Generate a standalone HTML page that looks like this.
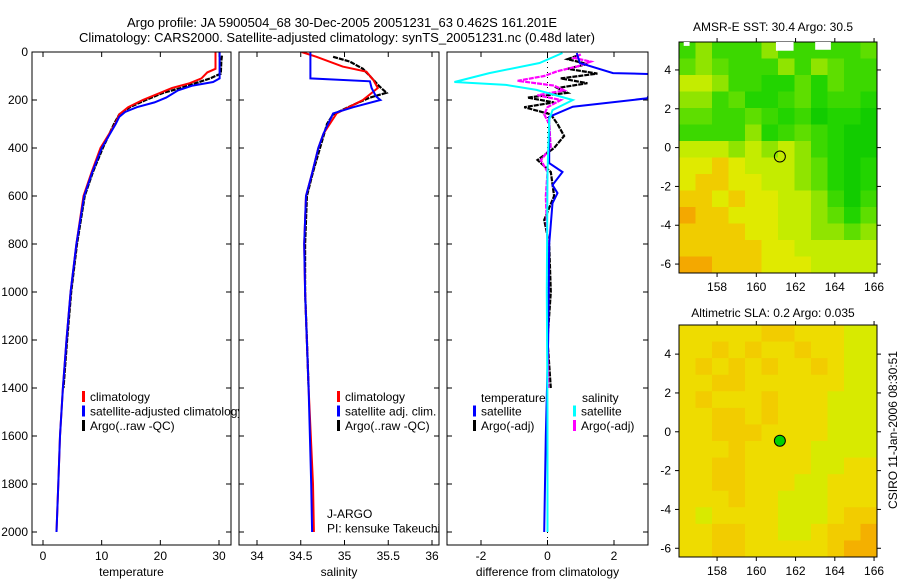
<!DOCTYPE html>
<html><head><meta charset="utf-8">
<style>
html,body{margin:0;padding:0;background:#fff;}
svg{display:block;font-family:"Liberation Sans",sans-serif;}
</style></head>
<body>
<svg id="fig" width="900" height="580" viewBox="0 0 900 580" xmlns="http://www.w3.org/2000/svg">
<text x="342" y="27" font-size="13" text-anchor="middle">Argo profile: JA 5900504_68 30-Dec-2005 20051231_63 0.462S 161.201E</text>
<text x="337" y="42" font-size="13" text-anchor="middle">Climatology: CARS2000. Satellite-adjusted climatology: synTS_20051231.nc (0.48d later)</text>
<text x="773" y="31" font-size="12" text-anchor="middle">AMSR-E SST: 30.4 Argo: 30.5</text>
<text x="773" y="317" font-size="12" text-anchor="middle">Altimetric SLA: 0.2 Argo: 0.035</text>
<text transform="translate(897,430) rotate(-90)" font-size="12" text-anchor="middle">CSIRO 11-Jan-2006 08:30:51</text>
<g id="plots"></g>
</svg>
<script>
// ---- depth profile data ----
const climTempDepth = [0,70,85,110,130,150,170,200,230,260,300,400,500,600,800,1000,1200,1400,1600,1800,2000];
const climTemp      = [29.4,29.4,28,27,25,22,20,17,14.5,13,12.3,9.8,8.3,6.9,5.7,4.7,4.0,3.4,2.9,2.6,2.3];
const satTempDepth  = [0,110,125,140,160,190,210,230,250,270,300,400,500,600,800,1000,1200,1400,1600,1800,2000];
const satTemp       = [30.1,30.1,29,25.5,23,21,19,16,14,13,12.4,10,8.4,7.0,5.7,4.7,4.0,3.4,2.9,2.6,2.3];
const argoTempDepth = [15,40,90,110,130,150,170,200,230,260,300,400,500,600,800,1000,1200,1400];
const argoTemp      = [30.5,30.4,30.3,28.5,26,23.5,20.5,17.5,14.8,13,12.1,10.2,8.5,7.1,5.8,4.8,4.1,3.5];

const climSalDepth = [0,20,61,82,117,150,200,256,340,400,505,600,800,1000,1400,1800,2000];
const climSal      = [34.51,34.68,34.98,35.25,35.33,35.38,35.21,34.91,34.76,34.70,34.63,34.56,34.54,34.55,34.59,34.64,34.65];
const satSalDepth  = [0,110,122,150,185,200,230,256,340,400,505,600,800,1000,1400,1800,2000];
const satSal       = [34.61,34.61,35.29,35.31,35.36,35.41,35.1,34.87,34.76,34.70,34.63,34.56,34.54,34.55,34.59,34.62,34.63];
const argoSalDepth = [20,40,70,100,140,170,190,220,260,300,400,500,600,800,1000,1200,1400];
const argoSal      = [34.87,35.06,35.21,35.29,35.39,35.48,35.29,35.1,34.87,34.8,34.72,34.64,34.57,34.55,34.55,34.57,34.59];

// ---- difference from climatology ----
const dTempSatDepth = [4,46,88,92,137,193,228,270,463,500,554,588,630,800,1200,1600,2000];
const dTempSat      = [0.88,0.97,1.97,3.2,3.2,3.0,0.76,0.05,0.05,0.45,0.15,0.3,0.15,0.05,0.02,-0.05,-0.1];
const dSalSatDepth  = [4,46,88,125,137,158,200,242,283,500,1000,1500,2000];
const dSalSat       = [0.45,-0.24,-1.75,-2.8,-1.25,-0.33,0.76,0.15,0.05,0.0,-0.02,0.0,0.0];
const dTempArgoDepth= [15,30,50,70,90,110,130,150,170,190,210,230,260,300,350,400,450,500,600,700,800,1000,1200,1400];
const dTempArgo     = [0.9,0.6,1.2,0.6,1.5,0.4,1.2,0.3,0.6,-0.6,0.2,-0.7,0.1,0.3,0.5,0.2,-0.3,0.1,0.2,-0.1,0.05,0.1,0.0,0.1];
const dSalArgoDepth = [10,25,40,60,80,100,120,140,160,180,200,230,260,300,400,450,500,600,800,1000,1400];
const dSalArgo      = [1.0,0.8,1.3,0.9,0.3,-0.1,-0.9,0.2,0.5,-0.3,0.4,0.0,-0.1,0.05,0.1,-0.2,0.0,-0.05,0.0,0.0,0.02];

// ---- map grids (0 = green ... 9 = orange) ----
const sstRows = [
 "353335333334","454333535433","665332242433","553422342332","443343231221",
 "333352343211","666565653211","778766654212","788776654212","887877665313",
 "988777665424","888877665545","888887766666","998887776666"];
const slaRows = [
 "777778877766","778787787766","787878778766","778877777766","787778777666",
 "778878777666","778887777666","777877776666","778877776677","778877766777",
 "777877666777","767777666788","778877667889","778877777899"];
const mapLonTicks = [158,160,162,164,166];
const mapLatTicks = [4,2,0,-2,-4,-6];
const argoLon = 161.2, argoLat = -0.46;

const depthTicks = [0,200,400,600,800,1000,1200,1400,1600,1800,2000];
const tempTicks = [0,10,20,30];
const salTicks = [34,34.5,35,35.5,36];
const diffTicks = [-2,0,2];

const NS = "http://www.w3.org/2000/svg";
const root = document.getElementById('plots');
function mk(tag, attrs, parent){const e=document.createElementNS(NS,tag);for(const k in attrs)e.setAttribute(k,attrs[k]);(parent||root).appendChild(e);return e;}
function lin(d0,d1,r0,r1){return v=>r0+(v-d0)*(r1-r0)/(d1-d0);}

const yD = lin(0,2000,52,532);
const Y0=52, Y1=545;

function panel(name,x0,x1,xs,ticks,title,yLabels){
  const g=mk('g',{});
  
  
  mk('rect',{x:x0,y:Y0,width:x1-x0,height:Y1-Y0,fill:'#fff',stroke:'none'},g);
  depthTicks.forEach(d=>{
    const y=yD(d);
    mk('line',{x1:x0,y1:y,x2:x0+5,y2:y,stroke:'#000'},g);
    mk('line',{x1:x1,y1:y,x2:x1-5,y2:y,stroke:'#000'},g);
    if(yLabels){const t=mk('text',{x:x0-4,y:y+4,'font-size':12,'text-anchor':'end'},g);t.textContent=d;
      
      }
  });
  ticks.forEach(v=>{
    const x=xs(v);
    mk('line',{x1:x,y1:Y1,x2:x,y2:Y1-5,stroke:'#000'},g);
    mk('line',{x1:x,y1:Y0,x2:x,y2:Y0+5,stroke:'#000'},g);
    const t=mk('text',{x:x,y:560,'font-size':12,'text-anchor':'middle'},g);t.textContent=v;
    
    
  });
  const tt=mk('text',{x:(x0+x1)/2,y:576,'font-size':12,'text-anchor':'middle'},g);tt.textContent=title;
  
  
  return g;
}
function frame(g,name,x0,x1){
  const r=mk('rect',{x:x0,y:Y0,width:x1-x0,height:Y1-Y0,fill:'none',stroke:'#000','stroke-width':1},g);
  
  
}
function series(g,name,xs,vals,depths,color,w,dash,clip){
  const pts=vals.map((v,i)=>xs(v).toFixed(1)+','+yD(depths[i]).toFixed(1)).join(' ');
  const p=mk('polyline',{points:pts,fill:'none',stroke:color,'stroke-width':w},g);
  if(dash)p.setAttribute('stroke-dasharray',dash);
  if(clip)p.setAttribute('clip-path',clip);
  
  
}
function legend(g,x,y,items){
  items.forEach((it,i)=>{
    const yy=y+i*14.5;
    if(it.c){mk('rect',{x:x,y:yy-10,width:3,height:11,fill:it.c},g);}
    const t=mk('text',{x:x+8,y:yy,'font-size':12},g);t.textContent=it.t;
    
    
  });
}

const defs=mk('defs',{});
[['c1',32,231],['c2',239,439],['c3',447,648]].forEach(a=>{const c=mk('clipPath',{id:a[0]},defs);mk('rect',{x:a[1],y:Y0,width:a[2]-a[1],height:Y1-Y0},c);});

// temperature panel
const xT=lin(0,30,43,219);
const g1=panel('temperature-panel',32,231,xT,tempTicks,'temperature',true);
series(g1,'temp-argo-line',xT,argoTemp,argoTempDepth,'#000',2.2,'5 1','url(#c1)');
series(g1,'temp-climatology-line',xT,climTemp,climTempDepth,'#f00',2,null,'url(#c1)');
series(g1,'temp-satellite-line',xT,satTemp,satTempDepth,'#00f',2,null,'url(#c1)');
legend(g1,82,401,[{c:'#f00',t:'climatology'},{c:'#00f',t:'satellite-adjusted climatology'},{c:'#000',t:'Argo(..raw -QC)'}]);
frame(g1,'temperature-panel',32,231);

// salinity panel
const xS=lin(34,36,257,432);
const g2=panel('salinity-panel',239,439,xS,salTicks,'salinity',false);
series(g2,'sal-argo-line',xS,argoSal,argoSalDepth,'#000',2.2,'5 1','url(#c2)');
series(g2,'sal-climatology-line',xS,climSal,climSalDepth,'#f00',2,null,'url(#c2)');
series(g2,'sal-satellite-line',xS,satSal,satSalDepth,'#00f',2,null,'url(#c2)');
legend(g2,337,401,[{c:'#f00',t:'climatology'},{c:'#00f',t:'satellite adj. clim.'},{c:'#000',t:'Argo(..raw -QC)'}]);
legend(g2,319,518,[{t:'J-ARGO'},{t:'PI: kensuke Takeuchi'}]);
frame(g2,'salinity-panel',239,439);

// difference panel
const xDf=lin(-2,2,481,614);
const g3=panel('difference-panel',447,648,xDf,diffTicks,'difference from climatology',false);
mk('line',{x1:xDf(0),y1:Y0,x2:xDf(0),y2:Y1,stroke:'#000','stroke-dasharray':'1 4'},g3);
series(g3,'diff-temp-argo-line',xDf,dTempArgo,dTempArgoDepth,'#000',2.2,'5 1','url(#c3)');
series(g3,'diff-sal-argo-line',xDf,dSalArgo,dSalArgoDepth,'#f0f',2.2,'5 1','url(#c3)');
series(g3,'diff-temp-satellite-line',xDf,dTempSat,dTempSatDepth,'#00f',2,null,'url(#c3)');
series(g3,'diff-sal-satellite-line',xDf,dSalSat,dSalSatDepth,'#0ff',2,null,'url(#c3)');
legend(g3,473,401,[{t:''},{c:'#00f',t:'satellite'},{c:'#000',t:'Argo(-adj)'}]);
legend(g3,573,401,[{t:''},{c:'#0ff',t:'satellite'},{c:'#f0f',t:'Argo(-adj)'}]);
{const t=mk('text',{x:481,y:402,'font-size':12},g3);t.textContent='temperature';
 
 
 const t2=mk('text',{x:582,y:402,'font-size':12},g3);t2.textContent='salinity';
 
 }
frame(g3,'difference-panel',447,648);

// maps
const cmapSST=['#00c800','#12cc00','#22d400','#3cd800','#5ede00','#90e400','#c4ec00','#e0ea00','#f0cc00','#f4a800'];
const cmapSLA=['#00c800','#12cc00','#22d400','#3cd800','#5ede00','#90e400','#d8ea00','#eedc00','#f2cc00','#f4b000'];
function map(name,rows,cmap,y0,y1,latTop,latBot,filled){
  const x0=679,x1=877;
  const xL=lin(156.06,166.15,x0,x1), yL=lin(latTop,latBot,y0,y1);
  const g=mk('g',{});
  
  
  const nr=rows.length, nc=rows[0].length;
  const cw=(x1-x0)/nc, ch=(y1-y0)/nr;
  rows.forEach((row,r)=>{for(let c=0;c<nc;c++){
    const cell=mk('rect',{x:x0+c*cw,y:y0+r*ch,width:cw+0.5,height:ch+0.5,fill:cmap[+row[c]]},g);
    
    
  }});
  mk('rect',{x:x0,y:y0,width:x1-x0,height:y1-y0,fill:'none',stroke:'#000'},g);
  mapLonTicks.forEach(v=>{const x=xL(v);
    mk('line',{x1:x,y1:y1,x2:x,y2:y1+4,stroke:'#000'},g);mk('line',{x1:x,y1:y0,x2:x,y2:y0-4,stroke:'#000'},g);
    const t=mk('text',{x:x,y:y1+18,'font-size':12,'text-anchor':'middle'},g);t.textContent=v;
    
    });
  mapLatTicks.forEach(v=>{const y=yL(v);
    mk('line',{x1:x0,y1:y,x2:x0-4,y2:y,stroke:'#000'},g);mk('line',{x1:x1,y1:y,x2:x1+4,y2:y,stroke:'#000'},g);
    const t=mk('text',{x:x0-8,y:y+4,'font-size':12,'text-anchor':'end'},g);t.textContent=v;
    
    });
  const m=mk('circle',{cx:xL(argoLon),cy:yL(argoLat),r:5.5,fill:filled?'#00d000':'none',stroke:'#000'},g);
  
  
  return {g,xL,yL};
}
const m1=map('sst-map',sstRows,cmapSST,42,273,5.44,-6.46,false);
[[156.3,5.44,0.3,0.2],[161.0,5.44,0.9,0.45],[163.0,5.44,0.8,0.4]].forEach(p=>{
  const r=mk('rect',{x:m1.xL(p[0]),y:m1.yL(p[1]),width:p[2]*19.6,height:p[3]*19.4,fill:'#fff'},m1.g);
  
  
});
map('sla-map',slaRows,cmapSLA,325,557,5.5,-6.45,true);
</script>
</body></html>
